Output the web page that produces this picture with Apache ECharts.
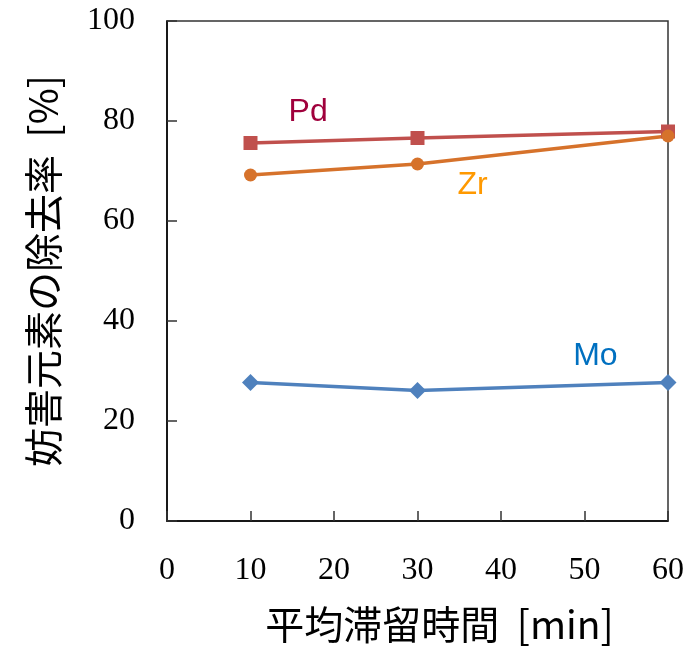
<!DOCTYPE html>
<html>
<head>
<meta charset="utf-8">
<script src="https://cdn.jsdelivr.net/npm/echarts@6/dist/echarts.min.js"></script>
<style>html,body{margin:0;padding:0;background:#fff}#c{width:700px;height:649px}</style>
</head>
<body>
<div id="c"></div>
<script>
const times = [10, 30, 60];
const pd = [75.6, 76.6, 77.9];
const zr = [69.2, 71.4, 77.0];
const mo = [27.7, 26.1, 27.7];
const xTicks = [0, 10, 20, 30, 40, 50, 60];
const yTicks = [0, 20, 40, 60, 80, 100];
const xTitle = '平均滞留時間  [min]';
const yTitle = '妨害元素の除去率  [%]';
const labelPd = {name: 'Pd', x: 16.9, y: 81.7};
const labelZr = {name: 'Zr', x: 36.6, y: 67.1};
const labelMo = {name: 'Mo', x: 51.3, y: 32.9};

const pairs = v => times.map((t, i) => [t, v[i]]);
const tag = (l, color) => ({
  symbol: 'circle', symbolSize: 0, silent: true,
  data: [{coord: [l.x, l.y], value: l.name}],
  label: {show: true, position: 'inside', formatter: l.name, color: color,
          fontFamily: 'Liberation Sans, Arial, sans-serif', fontSize: 32}
});
const serif = 'Liberation Serif, Times New Roman, serif';
const cjk = 'Noto Sans CJK JP, sans-serif';

const chart = echarts.init(document.getElementById('c'), null, {renderer: 'canvas'});
chart.setOption({
  animation: false,
  grid: {left: 167, right: 32, top: 21, bottom: 125, show: true, borderColor: '#333', borderWidth: 1.5, backgroundColor: 'transparent'},
  xAxis: {
    type: 'value', min: xTicks[0], max: xTicks[xTicks.length - 1], interval: 10,
    name: xTitle, nameLocation: 'middle', nameGap: 84,
    nameTextStyle: {fontFamily: cjk, fontSize: 39, color: '#000', padding: [0, 0, 0, 44]},
    axisLine: {show: true, lineStyle: {color: '#000', width: 1.5}},
    axisTick: {show: true, inside: true, length: 10, lineStyle: {color: '#333', width: 1.5}},
    axisLabel: {margin: 34, fontFamily: serif, fontSize: 32, color: '#000'},
    splitLine: {show: false}
  },
  yAxis: {
    type: 'value', min: yTicks[0], max: yTicks[yTicks.length - 1], interval: 20,
    name: yTitle, nameLocation: 'middle', nameGap: 104, nameRotate: 90,
    nameTextStyle: {fontFamily: cjk, fontSize: 39, color: '#000'},
    axisLine: {show: true, lineStyle: {color: '#000', width: 1.5}},
    axisTick: {show: true, inside: true, length: 10, lineStyle: {color: '#333', width: 1.5}},
    axisLabel: {margin: 32, fontFamily: serif, fontSize: 32, color: '#000'},
    splitLine: {show: false}
  },
  series: [
    {type: 'line', name: 'Mo', data: pairs(mo), symbol: 'diamond', symbolSize: 17, clip: false,
     lineStyle: {color: '#4F81BD', width: 3.5}, itemStyle: {color: '#4F81BD'}, markPoint: tag(labelMo, '#0070C0')},
    {type: 'line', name: 'Pd', data: pairs(pd), symbol: 'rect', symbolSize: 14, clip: false,
     lineStyle: {color: '#C0504D', width: 3.5}, itemStyle: {color: '#C0504D'}, markPoint: tag(labelPd, '#A0003C')},
    {type: 'line', name: 'Zr', data: pairs(zr), symbol: 'circle', symbolSize: 13, clip: false,
     lineStyle: {color: '#D6722B', width: 3.5}, itemStyle: {color: '#D6722B'}, markPoint: tag(labelZr, '#FF9900')}
  ]
});
</script>
</body>
</html>
